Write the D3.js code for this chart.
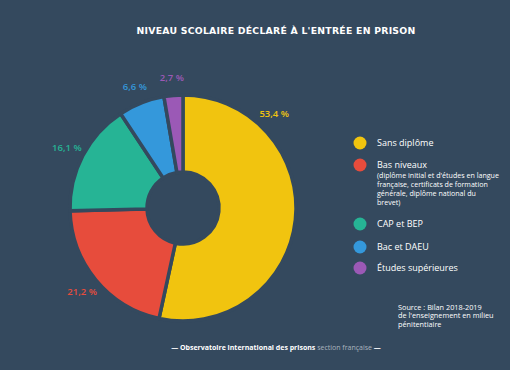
<!DOCTYPE html>
<html>
<head>
<meta charset="utf-8">
<script src="https://cdn.jsdelivr.net/npm/d3@7"></script>
<style>
  body { margin: 0; background: #34495e; }
  svg { display: block; font-family: "Open Sans", sans-serif; }
</style>
</head>
<body>
<script>
// categories and values (percent)
var categories = ["Sans diplôme", "Bas niveaux", "CAP et BEP", "Bac et DAEU", "Études supérieures"];
var values = [53.4, 21.2, 16.1, 6.6, 2.7];
var valueLabels = ["53,4 %", "21,2 %", "16,1 %", "6,6 %", "2,7 %"];
var colors = ["#f1c40f", "#e74c3c", "#26b495", "#3498db", "#9b59b6"];
var subLegend = ["(diplôme initial et d'études en langue", "française, certificats de formation",
                 "générale, diplôme national du", "brevet)"];
var sourceLines = ["Source : Bilan 2018-2019", "de l'enseignement en milieu", "pénitentiaire"];

var width = 510, height = 370;
var bg = "#34495e";

var svg = d3.select("body").append("svg")
    .attr("width", width)
    .attr("height", height);

svg.append("rect").attr("width", width).attr("height", height).attr("fill", bg);

// title
svg.append("text")
    .attr("x", 276).attr("y", 34)
    .attr("text-anchor", "middle")
    .attr("fill", "#ffffff")
    .style("font-family", "'DejaVu Sans', sans-serif")
    .style("font-weight", "bold")
    .style("font-size", "9.3px")
    .style("letter-spacing", "0.25px")
    .text("NIVEAU SCOLAIRE DÉCLARÉ À L'ENTRÉE EN PRISON");

// donut
var cx = 183, cy = 208, outerR = 113, innerR = 36;
var g = svg.append("g").attr("transform", "translate(" + cx + "," + cy + ")");

var pie = d3.pie().sort(null).value(d => d);
var arcs = pie(values);
var arc = d3.arc().innerRadius(innerR).outerRadius(outerR);

g.selectAll("path.slice")
    .data(arcs)
    .enter()
    .append("path")
    .attr("class", "slice")
    .attr("d", arc)
    .attr("fill", (d, i) => colors[i])
    .attr("stroke", bg)
    .attr("stroke-width", 3.5)
    .attr("stroke-linejoin", "miter");

// value labels just outside the ring
var labelR = 131;
function labelAngle(d) {
    return d.startAngle + Math.min((d.endAngle - d.startAngle) / 2, 0.77);
}
g.selectAll("text.val")
    .data(arcs)
    .enter()
    .append("text")
    .attr("class", "val")
    .attr("x", d => labelR * Math.sin(labelAngle(d)))
    .attr("y", d => -labelR * Math.cos(labelAngle(d)))
    .attr("dy", "0.35em")
    .attr("text-anchor", "middle")
    .attr("fill", (d, i) => colors[i])
    .style("font-size", "9.5px")
    .style("font-weight", 600)
    .text((d, i) => valueLabels[i]);

// legend
var legendY = [143, 165, 224, 247, 268];
var legend = svg.selectAll("g.leg")
    .data(categories)
    .enter()
    .append("g")
    .attr("class", "leg")
    .attr("transform", (d, i) => "translate(360," + legendY[i] + ")");

legend.append("circle")
    .attr("r", 6.5)
    .attr("fill", (d, i) => colors[i]);

legend.append("text")
    .attr("x", 17)
    .attr("dy", "0.35em")
    .attr("fill", "#ffffff")
    .style("font-size", "9px")
    .text(d => d);

svg.append("g")
    .selectAll("text")
    .data(subLegend)
    .enter()
    .append("text")
    .attr("x", 377)
    .attr("y", (d, i) => 175.5 + i * 9)
    .attr("dy", "0.35em")
    .attr("fill", "#ffffff")
    .style("font-size", "7.1px")
    .text(d => d);

// source
svg.append("g")
    .selectAll("text")
    .data(sourceLines)
    .enter()
    .append("text")
    .attr("x", 398)
    .attr("y", (d, i) => 307 + i * 8.5)
    .attr("dy", "0.35em")
    .attr("fill", "#ffffff")
    .style("font-size", "7.3px")
    .text(d => d);

// footer
var foot = svg.append("text")
    .attr("x", 276).attr("y", 348)
    .attr("dy", "0.35em")
    .attr("text-anchor", "middle")
    .attr("fill", "#ffffff")
    .style("font-size", "7px");
foot.append("tspan").style("font-weight", "bold").text("— Observatoire international des prisons");
foot.append("tspan").attr("fill", "#aab4be").text(" section française ");
foot.append("tspan").style("font-weight", "bold").text("—");
</script>
</body>
</html>
